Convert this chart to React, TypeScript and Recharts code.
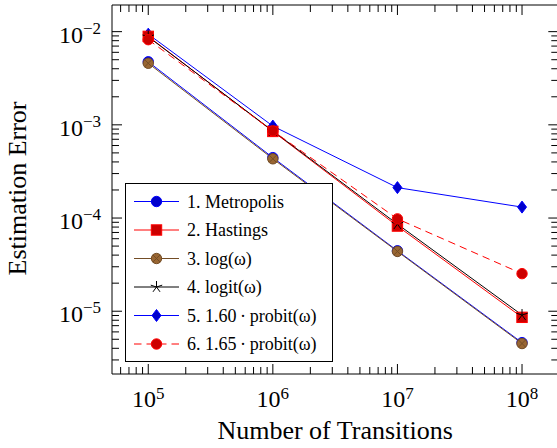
import React from 'react';
import { LineChart, Line, XAxis, YAxis, ReferenceArea, Legend } from 'recharts';

// ---- data ----
const transitions = [1e5, 1e6, 1e7, 1e8];
const metropolis = [4.75e-3, 4.45e-4, 4.45e-5, 4.6e-6];
const hastings = [8.9e-3, 8.5e-4, 8.2e-5, 8.6e-6];
const logOmega = [4.58e-3, 4.32e-4, 4.38e-5, 4.5e-6];
const logitOmega = [8.8e-3, 8.6e-4, 8.6e-5, 9.1e-6];
const probit160 = [9.4e-3, 9.7e-4, 2.12e-4, 1.31e-4];
const probit165 = [8.2e-3, 8.6e-4, 9.8e-5, 2.53e-5];

const legendLabels = [
  '1. Metropolis',
  '2. Hastings',
  '3. log(\u03c9)',
  '4. logit(\u03c9)',
  '5. 1.60\u2009\u00b7\u2009probit(\u03c9)',
  '6. 1.65\u2009\u00b7\u2009probit(\u03c9)',
];

const xMajorTicks = [1e5, 1e6, 1e7, 1e8];
const xMajorLabels = ['5', '6', '7', '8'];
const xMinorTicks = [
  6e4, 7e4, 8e4, 9e4,
  2e5, 3e5, 4e5, 5e5, 6e5, 7e5, 8e5, 9e5,
  2e6, 3e6, 4e6, 5e6, 6e6, 7e6, 8e6, 9e6,
  2e7, 3e7, 4e7, 5e7, 6e7, 7e7, 8e7, 9e7,
];
const yMajorTicks = [1e-5, 1e-4, 1e-3, 1e-2];
const yMajorLabels = ['\u22125', '\u22124', '\u22123', '\u22122'];
const yMinorTicks = [
  3e-6, 4e-6, 5e-6, 6e-6, 7e-6, 8e-6, 9e-6,
  2e-5, 3e-5, 4e-5, 5e-5, 6e-5, 7e-5, 8e-5, 9e-5,
  2e-4, 3e-4, 4e-4, 5e-4, 6e-4, 7e-4, 8e-4, 9e-4,
  2e-3, 3e-3, 4e-3, 5e-3, 6e-3, 7e-3, 8e-3, 9e-3,
];
const xDomain = [51170, 1.955e8];
const yDomain = [2.12e-6, 1.932e-2];

const rows = transitions.map((x, i) => ({
  x,
  metropolis: metropolis[i],
  hastings: hastings[i],
  logOmega: logOmega[i],
  logitOmega: logitOmega[i],
  probit160: probit160[i],
  probit165: probit165[i],
}));

// ---- layout ----
const W = 570;
const H = 448;
const TOP = 5;
const LEFT = 112;
const RIGHT_M = 11.7;
const RIGHT = W - RIGHT_M;
const XAXIS_H = 74;
const MAJOR = 10;
const MINOR = 7;
const FONT = '"Liberation Serif", "Times New Roman", serif';

const BLUE = '#0000FF';
const BLUE_F = '#0000CC';
const RED = '#FF0000';
const RED_F = '#CC0000';
const BROWN = '#734D26';
const BROWN_F = '#996633';

// ---- markers ----
type MP = { cx: number; cy: number };
const mCircle = (fill: string, stroke: string) => ({ cx, cy }: MP) => (
  <circle cx={cx} cy={cy} r={5.2} fill={fill} stroke={stroke} strokeWidth={1} />
);
const mSquare = (fill: string, stroke: string) => ({ cx, cy }: MP) => (
  <rect x={cx - 5.2} y={cy - 5.2} width={10.4} height={10.4} fill={fill} stroke={stroke} strokeWidth={1} />
);
const mOtimes = (fill: string, stroke: string) => ({ cx, cy }: MP) => {
  const d = 5.2 * 0.7071;
  return (
    <g>
      <circle cx={cx} cy={cy} r={5.2} fill={fill} stroke={stroke} strokeWidth={1} />
      <line x1={cx - d} y1={cy - d} x2={cx + d} y2={cy + d} stroke={stroke} strokeWidth={1} />
      <line x1={cx - d} y1={cy + d} x2={cx + d} y2={cy - d} stroke={stroke} strokeWidth={1} />
    </g>
  );
};
const mStar = (stroke: string) => ({ cx, cy }: MP) => {
  const arms = [90, 162, 234, 306, 18];
  return (
    <g>
      {arms.map((a) => {
        const r = (a * Math.PI) / 180;
        return (
          <line key={a} x1={cx} y1={cy} x2={cx + 6 * Math.cos(r)} y2={cy - 6 * Math.sin(r)} stroke={stroke} strokeWidth={1} />
        );
      })}
    </g>
  );
};
const mDiamond = (fill: string, stroke: string) => ({ cx, cy }: MP) => (
  <path
    d={`M${cx},${cy - 6} L${cx + 4.5},${cy} L${cx},${cy + 6} L${cx - 4.5},${cy} Z`}
    fill={fill}
    stroke={stroke}
    strokeWidth={1}
  />
);

const markers = [
  mCircle(BLUE_F, BLUE),
  mSquare(RED_F, RED),
  mOtimes(BROWN_F, BROWN),
  mStar('#000'),
  mDiamond(BLUE_F, BLUE),
  mCircle(RED_F, RED),
];
const lineColors = [BLUE, RED, BROWN, '#000', BLUE, RED];
const lineDashes = [undefined, undefined, undefined, undefined, undefined, '7.5 5'];

const dotFn = (k: number) => (p: any) => {
  if (p.cx == null || p.cy == null) return <g key={`e${k}-${p.index}`} />;
  const M = markers[k];
  return <g key={`d${k}-${p.index}`}>{M({ cx: p.cx, cy: p.cy })}</g>;
};

// ---- ticks ----
const XTick = (props: any) => {
  const { x, y, payload } = props;
  const v = payload.value;
  const mi = xMajorTicks.indexOf(v);
  const len = mi >= 0 ? MAJOR : MINOR;
  return (
    <g>
      <line x1={x} y1={y} x2={x} y2={y - len} stroke="#000" strokeWidth={1} />
      <line x1={x} y1={TOP} x2={x} y2={TOP + len} stroke="#000" strokeWidth={1} />
      {mi >= 0 && (
        <text x={x} y={y + 33} textAnchor="middle" fontFamily={FONT} fontSize={24} fill="#000">
          <tspan>10</tspan>
          <tspan dy={-8} fontSize={17}>{xMajorLabels[mi]}</tspan>
        </text>
      )}
    </g>
  );
};

const YTick = (props: any) => {
  const { x, y, payload } = props;
  const v = payload.value;
  const mi = yMajorTicks.indexOf(v);
  const len = mi >= 0 ? MAJOR : MINOR;
  return (
    <g>
      <line x1={x} y1={y} x2={x + len} y2={y} stroke="#000" strokeWidth={1} />
      <line x1={RIGHT} y1={y} x2={RIGHT - len} y2={y} stroke="#000" strokeWidth={1} />
      {mi >= 0 && (
        <text x={x - 11} y={y + 11} textAnchor="end" fontFamily={FONT} fontSize={24} fill="#000">
          <tspan>10</tspan>
          <tspan dy={-9} fontSize={17}>{yMajorLabels[mi]}</tspan>
        </text>
      )}
    </g>
  );
};

// ---- legend ----
const LegendBox = () => {
  const w = 208;
  const h = 179;
  return (
    <svg width={w} height={h} style={{ display: 'block' }}>
      <rect x={0.5} y={0.5} width={w - 1} height={h - 1} fill="#fff" stroke="#000" strokeWidth={1} />
      {legendLabels.map((lab, i) => {
        const cy = 18.5 + i * 28.5;
        const M = markers[i];
        return (
          <g key={lab}>
            <line x1={9} y1={cy} x2={54} y2={cy} stroke={lineColors[i]} strokeWidth={1} strokeDasharray={lineDashes[i]} />
            {M({ cx: 31.5, cy })}
            <text x={62} y={cy + 6} fontFamily={FONT} fontSize={18} fill="#000">
              {lab}
            </text>
          </g>
        );
      })}
    </svg>
  );
};

const seriesOrder = [
  { key: 'probit160', k: 4 },
  { key: 'metropolis', k: 0 },
  { key: 'logOmega', k: 2 },
  { key: 'hastings', k: 1 },
  { key: 'logitOmega', k: 3 },
  { key: 'probit165', k: 5 },
];

export default function App() {
  return (
    <div style={{ position: 'fixed', left: 0, top: 0, width: 557, height: 448, overflow: 'hidden', background: '#fff' }}>
      <LineChart width={W} height={H} data={rows} margin={{ top: TOP, right: RIGHT_M, bottom: 0, left: 0 }}>
        <ReferenceArea
          x1={xDomain[0]}
          x2={xDomain[1]}
          y1={yDomain[0]}
          y2={yDomain[1]}
          ifOverflow="visible"
          fill="none"
          stroke="#000"
          strokeWidth={1}
          fillOpacity={0}
        />
        <XAxis
          dataKey="x"
          type="number"
          scale="log"
          domain={xDomain}
          allowDataOverflow
          ticks={[...xMajorTicks, ...xMinorTicks]}
          interval={0}
          tick={XTick}
          tickLine={false}
          axisLine={false}
          tickSize={0}
          tickMargin={0}
          height={XAXIS_H}
          label={(p: any) => {
            const vb = p.viewBox || {};
            return (
              <text x={(vb.x ?? LEFT) + (vb.width ?? 446) / 2} y={(vb.y ?? 374) + 65} textAnchor="middle" fontFamily={FONT} fontSize={26} fill="#000">
                Number of Transitions
              </text>
            );
          }}
        />
        <YAxis
          type="number"
          scale="log"
          domain={yDomain}
          allowDataOverflow
          ticks={[...yMajorTicks, ...yMinorTicks]}
          interval={0}
          tick={YTick}
          tickLine={false}
          axisLine={false}
          tickSize={0}
          tickMargin={0}
          width={LEFT}
          label={(p: any) => {
            const vb = p.viewBox || {};
            const cy = (vb.y ?? TOP) + (vb.height ?? 369) / 2 - 1;
            return (
              <text x={26} y={cy} transform={`rotate(-90, 26, ${cy})`} textAnchor="middle" fontFamily={FONT} fontSize={26} fill="#000">
                Estimation Error
              </text>
            );
          }}
        />
        {seriesOrder.map(({ key, k }) => (
          <Line
            key={key}
            type="linear"
            dataKey={key}
            stroke={lineColors[k]}
            strokeWidth={1}
            strokeDasharray={lineDashes[k]}
            dot={dotFn(k)}
            activeDot={false}
            isAnimationActive={false}
          />
        ))}
        <Legend
          layout="vertical"
          align="center"
          verticalAlign="middle"
          wrapperStyle={{ position: 'absolute', left: 125, top: 183, width: 208, height: 179 }}
          content={() => <LegendBox />}
        />
      </LineChart>
    </div>
  );
}
